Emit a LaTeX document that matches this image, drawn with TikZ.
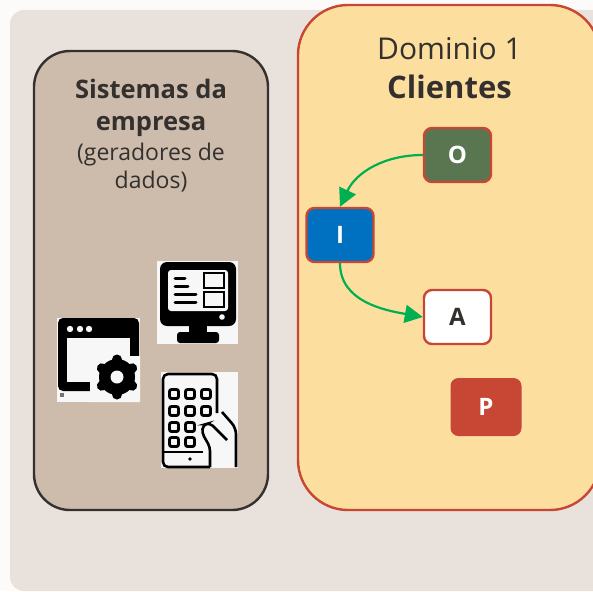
\documentclass[tikz,border=0pt]{standalone}
\usepackage{fontspec}
\setmainfont{Open Sans}
\usetikzlibrary{arrows.meta}
\definecolor{pagebg}{HTML}{FCFBF9}
\definecolor{panelbg}{HTML}{E9E2DC}
\definecolor{sysbg}{HTML}{CDBCAC}
\definecolor{sysline}{HTML}{33302E}
\definecolor{dombg}{HTML}{FCDF9F}
\definecolor{domline}{HTML}{C74634}
\definecolor{oliveg}{HTML}{5A7650}
\definecolor{blueb}{HTML}{0070C0}
\definecolor{arrowg}{HTML}{00B050}
\definecolor{iconbg}{HTML}{F7F7F7}
\newcommand{\fs}[2]{\fontsize{#1}{#2}\selectfont}
\begin{document}
\begin{tikzpicture}[x=1pt,y=-1pt,
		letter/.style={rectangle,rounded corners=8pt,draw=domline,line width=2.4pt,minimum width=67pt,minimum height=54pt,inner sep=0pt,font=\fs{24}{24}\bfseries},
		flow/.style={draw=arrowg,line width=2.2pt,-{Triangle[length=18pt,width=18pt]}},
		iconbox/.style={rectangle,fill=iconbg,draw=none,inner sep=0pt},
		ink/.style={draw=black,line width=2.6pt}]
		\useasboundingbox (0,0) rectangle (593,591);
		\fill[pagebg] (0,0) rectangle (593,591);
		\begin{scope}
		\clip (0,0) rectangle (593,591);
		\fill[panelbg,rounded corners=14pt] (10,10) rectangle (640,591);
		\draw[draw=domline,fill=dombg,line width=2.4pt,rounded corners=50pt] (298,5) rectangle (600,510);
		\end{scope}
		\draw[draw=sysline,fill=sysbg,line width=2.4pt,rounded corners=36pt] (34,51) rectangle (268,510);
		% textos
		\node[align=center,text=sysline,font=\fs{24}{30}] (sistemas) at (151,135.5)
			{\fs{25.5}{30}\bfseries Sistemas da\\[2pt] \fs{25.5}{30}\bfseries empresa\\ \fs{23}{30}(geradores de\\[-2pt] \fs{23}{30}dados)};
		\node[align=center,text=sysline,font=\fs{30}{39}] (dominio) at (449.5,68)
			{\fs{30}{39}Dominio 1\\ \fs{31}{39}\bfseries Clientes};
		% caixas
		\node[letter,fill=oliveg,text=white] (o) at (457.5,155) {O};
		\node[letter,fill=blueb,text=white]  (i) at (340,235) {I};
		\node[letter,fill=white,text=sysline] (a) at (457.5,317) {A};
		\node[letter,fill=domline,draw=none,minimum width=71pt,minimum height=58pt,text=white] (p) at (486,407) {P};
		\draw[flow] (o.west) to[out=180,in=65] (i.north);
		\draw[flow] (i.south) to[out=270,in=170] (a.west);
		% monitor
		\node[iconbox,minimum width=81pt,minimum height=83pt] (monitor) at (197.5,302.5) {};
		\fill[black,rounded corners=7pt] (160,262) rectangle (236,326);
		\fill[black] (189,324) rectangle (207,335);
		\fill[black,rounded corners=3pt] (177,332) rectangle (219,343);
		\fill[iconbg,rounded corners=3pt] (168,270) rectangle (228,311);
		\fill[iconbg] (222,317) circle (2.8pt);
		\draw[ink,line width=3pt,line cap=round] (175,278) -- (185,278) (175,286) -- (188,286) (175,294) -- (196,294) (175,302) -- (196,302);
		\draw[ink,line width=2pt] (204,273) rectangle (224,288) (204,292) rectangle (224,307);
		% janela
		\node[iconbox,minimum width=83pt,minimum height=84pt] (janela) at (98.5,360) {};
		\fill[black,rounded corners=5pt] (58,318) rectangle (139,391);
		\fill[iconbg] (67,338) rectangle (130,382);
		\fill[iconbg] (130,356) rectangle (140,402) (90,382) rectangle (140,402);
		\foreach \px in {70,80,89} \fill[iconbg] (\px,329) circle (3.2pt);
		\fill[black] (117,377) circle (18pt);
		\foreach \ang in {30,90,...,330} \draw[black,line width=10pt,line cap=round] (117,377) -- ++(\ang:17.5);
		\fill[iconbg] (117,377) circle (6.5pt);
		\fill[black!55] (60,393) rectangle (64,397);
		% tablet
		\node[iconbox,minimum width=77pt,minimum height=96pt] (tablet) at (199.5,420) {};
		\draw[ink,rounded corners=5pt] (210,467) -- (163,467) -- (163,374) -- (217,374) -- (217,413);
		\draw[ink] (163,452) -- (203,452);
		\foreach \py in {394,411} \foreach \px in {174,190,206}
			\draw[ink,line width=2.8pt,rounded corners=2pt] (\px-4.5,\py-4.5) rectangle (\px+4.5,\py+4.5);
		\foreach \py in {427,442} \foreach \px in {174,190}
			\draw[ink,line width=2.8pt,rounded corners=2pt] (\px-4.5,\py-4.5) rectangle (\px+4.5,\py+4.5);
		\fill[black] (190,459) circle (1.8pt);
		\draw[ink,rounded corners=4pt] (210,467) -- (210,447) -- (202,433) -- (203,425) -- (210,423) -- (227,440);
		\draw[ink,rounded corners=6pt] (222,412) -- (236,428) -- (236,467);
		\end{tikzpicture}
\end{document}
